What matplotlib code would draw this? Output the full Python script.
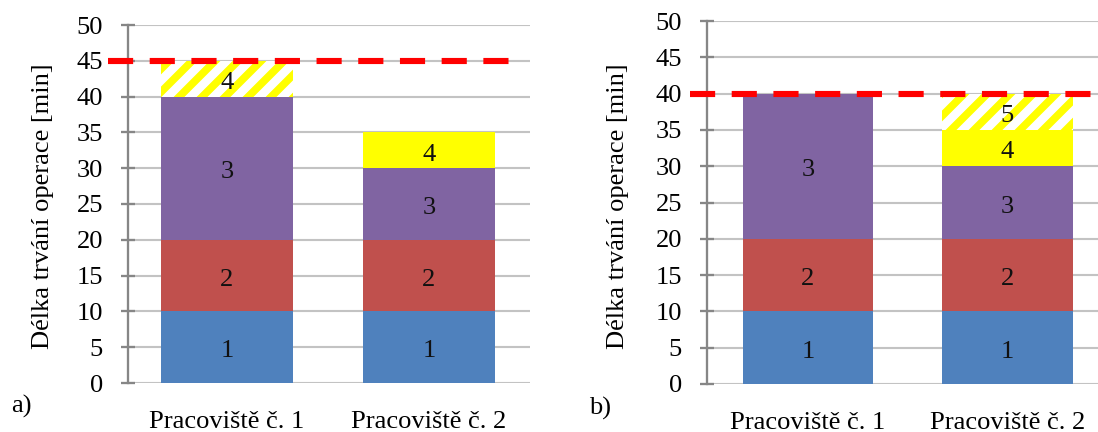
import matplotlib
matplotlib.use("Agg")
import matplotlib.pyplot as plt
import matplotlib.transforms as mtransforms

# ---- data -------------------------------------------------------------
workstations = ["Pracoviště č. 1", "Pracoviště č. 2"]

# panel a) operation numbers, durations [min] and overflow flags per workstation
a_ops = [[1, 2, 3, 4], [1, 2, 3, 4]]
a_durations = [[10, 10, 20, 5], [10, 10, 10, 5]]
a_overflow = [[False, False, False, True], [False, False, False, False]]
a_takt = 45

# panel b)
b_ops = [[1, 2, 3], [1, 2, 3, 4, 5]]
b_durations = [[10, 10, 20], [10, 10, 10, 5, 5]]
b_overflow = [[False, False, False], [False, False, False, False, True]]
b_takt = 40

y_ticks = list(range(0, 55, 5))
y_label = "Délka trvání operace [min]"

# ---- style ------------------------------------------------------------
DPI = 138
W, H = 1098, 432
FS = 13.8
op_colors = {1: "#4F81BD", 2: "#C0504D", 3: "#8064A2", 4: "#FFFF00", 5: "#FFFF00"}
YELLOW = "#FFFF00"
GRID = "#C3C3C3"
AXIS = "#868686"

plt.rcParams["font.family"] = ["Liberation Serif", "DejaVu Serif"]
plt.rcParams["hatch.linewidth"] = 4.0
plt.rcParams["hatch.color"] = YELLOW

fig = plt.figure(figsize=(W / DPI, H / DPI), dpi=DPI)


def px_rect(x0, y_top, x1, y_bottom):
    return [x0 / W, 1 - y_bottom / H, (x1 - x0) / W, (y_bottom - y_top) / H]


def draw_panel(ax, ops, durations, overflow, takt, xlim, line_span):
    bar_w = 0.655
    label_trans = mtransforms.offset_copy(ax.transData, fig=fig, y=-2.2,
                                          units="points")
    for i, (o_list, d_list, f_list) in enumerate(zip(ops, durations, overflow)):
        bottom = 0
        for op, dur, hatched in zip(o_list, d_list, f_list):
            if hatched:
                ax.bar(i, dur, bottom=bottom, width=bar_w, color="white",
                       edgecolor=YELLOW, hatch="//", linewidth=0, zorder=2)
            else:
                ax.bar(i, dur, bottom=bottom, width=bar_w, color=op_colors[op],
                       linewidth=0, zorder=2)
            ax.text(i, bottom + dur / 2, str(op), ha="center", va="center",
                    fontsize=FS, color="#111111", zorder=4,
                    transform=label_trans)
            bottom += dur

    trans = mtransforms.blended_transform_factory(ax.transAxes, ax.transData)
    ax.plot(line_span, [takt, takt], transform=trans, clip_on=False,
            color="#FF0000", lw=3.2, dashes=(4.1, 2.7), dash_capstyle="butt",
            zorder=6)

    ax.set_xlim(*xlim)
    ax.set_ylim(0, 50)
    ax.set_yticks(y_ticks)
    ax.set_xticks(range(len(workstations)))
    ax.set_xticklabels(workstations, fontsize=FS)
    ax.tick_params(axis="y", direction="inout", length=7.5, width=1.2,
                   color=AXIS, pad=9.3, labelsize=FS)
    ax.tick_params(axis="x", length=0, pad=14.5)
    ax.yaxis.grid(True, color=GRID, lw=1.1)
    ax.set_axisbelow(True)
    for s in ("top", "right", "bottom"):
        ax.spines[s].set_visible(False)
    ax.spines["left"].set_color(AXIS)
    ax.spines["left"].set_linewidth(1.2)


ax_a = fig.add_axes(px_rect(128, 25, 530, 383))
draw_panel(ax_a, a_ops, a_durations, a_overflow, a_takt,
           (-0.49, 1.5), [-0.05, 0.955])

ax_b = fig.add_axes(px_rect(707, 21, 1107, 384))
draw_panel(ax_b, b_ops, b_durations, b_overflow, b_takt,
           (-0.506, 1.5), [-0.0425, 1.0])

fig.text(43 / W, 1 - 206 / H, y_label, rotation=90, ha="center", va="center",
         fontsize=FS)
fig.text(618 / W, 1 - 206 / H, y_label, rotation=90, ha="center", va="center",
         fontsize=FS)
fig.text(21 / W, 1 - 406 / H, "a)", ha="center", va="center", fontsize=FS)
fig.text(600 / W, 1 - 408 / H, "b)", ha="center", va="center", fontsize=FS)

fig.savefig("out.png", dpi=DPI)
